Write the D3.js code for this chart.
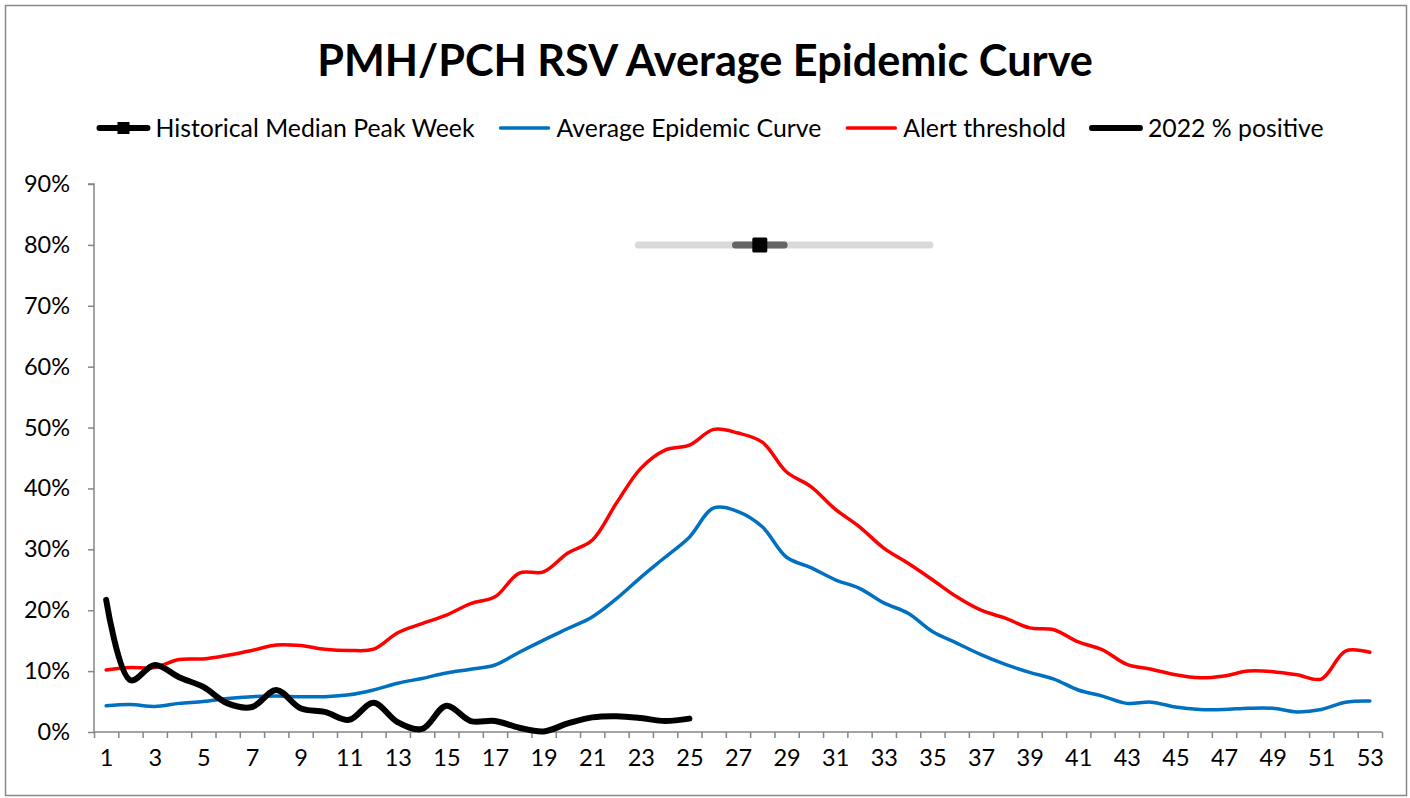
<!DOCTYPE html>
<html>
<head>
<meta charset="utf-8">
<script src="https://cdn.jsdelivr.net/npm/d3@7"></script>
<style>
  html, body { margin: 0; padding: 0; background: #fff; }
  svg { display: block; }
  text { font-family: Lato, "Open Sans", "DejaVu Sans", sans-serif; fill: #000; }
</style>
</head>
<body>
<svg id="chart" width="1410" height="798"></svg>
<script>
// ---------------- DATA ----------------
const weeks = [1,2,3,4,5,6,7,8,9,10,11,12,13,14,15,16,17,18,19,20,21,22,23,24,25,26,27,
               28,29,30,31,32,33,34,35,36,37,38,39,40,41,42,43,44,45,46,47,48,49,50,51,52,53];
const averageCurve = [4.3,4.5,4.2,4.7,5.0,5.5,5.8,5.9,5.8,5.8,6.1,6.9,8.0,8.8,9.7,10.3,11.0,13.1,15.1,17.0,
                      18.9,21.9,25.4,28.7,32.0,36.8,36.2,33.7,28.7,27.0,25.0,23.6,21.2,19.5,16.5,14.6,12.7,11.1,9.8,8.7,
                      6.9,5.9,4.7,4.9,4.1,3.7,3.7,3.9,3.9,3.3,3.7,4.9,5.1];
const alertThreshold = [10.2,10.6,10.6,11.9,12.0,12.6,13.4,14.3,14.2,13.6,13.4,13.6,16.3,17.8,19.2,21.1,22.2,26.1,26.3,29.4,
                        31.5,37.6,43.3,46.3,47.1,49.7,49.1,47.6,42.7,40.3,36.6,33.7,30.2,27.7,25.0,22.2,20.0,18.7,17.1,16.8,
                        14.8,13.5,11.1,10.3,9.4,8.9,9.2,10.0,9.9,9.4,8.7,13.3,13.1];
const positive2022 = [21.7,8.5,11.0,9.0,7.4,4.7,4.1,6.9,3.9,3.3,2.0,4.8,1.6,0.5,4.3,1.8,1.8,0.7,0.1,1.4,
                      2.4,2.6,2.3,1.8,2.2];
const peakWeekMedian = 28;
const peakWeekIQR = [27, 29];
const peakWeekRange = [23, 35];
const peakWeekLevel = 80;
const yTicks = [0,10,20,30,40,50,60,70,80,90];
const xLabelWeeks = [1,3,5,7,9,11,13,15,17,19,21,23,25,27,29,31,33,35,37,39,41,43,45,47,49,51,53];

const titleText = "PMH/PCH RSV Average Epidemic Curve";
const legendItems = [
  {key: "peak", label: "Historical Median Peak Week"},
  {key: "avg", label: "Average Epidemic Curve"},
  {key: "alert", label: "Alert threshold"},
  {key: "pos", label: "2022 % positive"}
];

// ---------------- LAYOUT ----------------
const svg = d3.select("#chart");
const W = 1410, H = 798;
const plot = {left: 94, right: 1382, top: 184, bottom: 732};
const axisColor = "#868686";
const colors = {avg: "#0070C0", alert: "#FF0000", pos: "#000000"};

svg.append("rect").attr("x", 5.5).attr("y", 5.5).attr("width", W - 9).attr("height", H - 8)
  .attr("fill", "#fff").attr("stroke", "#898989").attr("stroke-width", 1.5);

const x = d3.scaleLinear().domain([0.5, weeks.length + 0.5]).range([plot.left, plot.right]);
const y = d3.scaleLinear().domain([0, 90]).range([plot.bottom, plot.top]);

function fitWidth(sel, target) {
  const node = sel.node();
  const fs = parseFloat(sel.attr("font-size"));
  const w = node.getComputedTextLength();
  sel.attr("font-size", (fs * target / w).toFixed(2));
}

// Title
const title = svg.append("text").attr("x", 705).attr("y", 76)
  .attr("text-anchor", "middle").attr("font-weight", "bold").attr("font-size", 44)
  .text(titleText);
fitWidth(title, 776);

// Y axis
const yAxis = svg.append("g").attr("transform", `translate(${plot.left},0)`)
  .call(d3.axisLeft(y).tickValues(yTicks).tickSize(6).tickPadding(18).tickFormat(d => d + "%"));
yAxis.selectAll("line, path").attr("stroke", axisColor).attr("stroke-width", 1.5);
yAxis.select(".domain").attr("d", `M-6,${plot.top}H0V${plot.bottom}`);
yAxis.selectAll("text").attr("font-size", 23.5).attr("font-family", "Lato, sans-serif").attr("fill", "#000");

// X axis (ticks between categories)
const xAxis = svg.append("g").attr("transform", `translate(0,${plot.bottom})`)
  .call(d3.axisBottom(x).tickValues(d3.range(0.5, weeks.length + 1, 1)).tickSize(6).tickFormat(""));
xAxis.selectAll("line, path").attr("stroke", axisColor).attr("stroke-width", 1.5);
xAxis.select(".domain").attr("d", `M${plot.left},0H${plot.right}`);

const xLab = svg.append("g").attr("transform", `translate(0,${plot.bottom})`)
  .call(d3.axisBottom(x).tickValues(xLabelWeeks).tickSize(0).tickPadding(17).tickFormat(d3.format("d")));
xLab.select(".domain").remove();
xLab.selectAll("text").attr("font-size", 23.5).attr("font-family", "Lato, sans-serif").attr("fill", "#000");

// Lines
const line = d3.line().x(d => x(d[0])).y(d => y(d[1])).curve(d3.curveCatmullRom.alpha(0.5));
function series(vals) { return vals.map((v, i) => [weeks[i], v]); }

svg.append("path").datum(series(averageCurve)).attr("d", line)
  .attr("fill", "none").attr("stroke", colors.avg).attr("stroke-width", 3.5)
  .attr("stroke-linejoin", "round").attr("stroke-linecap", "round");
svg.append("path").datum(series(alertThreshold)).attr("d", line)
  .attr("fill", "none").attr("stroke", colors.alert).attr("stroke-width", 3.5)
  .attr("stroke-linejoin", "round").attr("stroke-linecap", "round");
svg.append("path").datum(series(positive2022)).attr("d", line)
  .attr("fill", "none").attr("stroke", colors.pos).attr("stroke-width", 6)
  .attr("stroke-linejoin", "round").attr("stroke-linecap", "round");

// Peak week marker
const pk = svg.append("g").attr("transform", "translate(-2.5,0)");
pk.append("line").attr("x1", x(peakWeekRange[0])).attr("x2", x(peakWeekRange[1]))
  .attr("y1", y(peakWeekLevel)).attr("y2", y(peakWeekLevel))
  .attr("stroke", "#D9D9D9").attr("stroke-width", 7).attr("stroke-linecap", "round");
pk.append("line").attr("x1", x(peakWeekIQR[0])).attr("x2", x(peakWeekIQR[1]))
  .attr("y1", y(peakWeekLevel)).attr("y2", y(peakWeekLevel))
  .attr("stroke", "#646464").attr("stroke-width", 7).attr("stroke-linecap", "round");
pk.append("rect").attr("x", x(peakWeekMedian) - 7.5).attr("y", y(peakWeekLevel) - 7.5)
  .attr("width", 15).attr("height", 15).attr("rx", 1.5).attr("fill", "#000");

// Legend
const legY = 128;
const legend = svg.append("g");
const lineLen = 54, gapLT = 5, gapItem = 23, legFont = 24.8;
const items = legendItems.map(it => {
  const g = legend.append("g");
  const t = g.append("text").attr("y", legY + 9).attr("font-size", legFont).text(it.label);
  return {it, g, t, w: t.node().getComputedTextLength()};
});
const total = d3.sum(items, d => lineLen + gapLT + d.w) + gapItem * (items.length - 1);
let cx = 710 - total / 2;
items.forEach(d => {
  const k = d.it.key;
  const stroke = k === "avg" ? colors.avg : k === "alert" ? colors.alert : "#000";
  const sw = (k === "avg" || k === "alert") ? 3.5 : 6;
  d.g.insert("line", "text").attr("x1", cx + 3).attr("x2", cx + lineLen - 3)
    .attr("y1", legY).attr("y2", legY).attr("stroke", stroke).attr("stroke-width", sw)
    .attr("stroke-linecap", "round");
  if (k === "peak") {
    d.g.append("rect").attr("x", cx + lineLen / 2 - 6).attr("y", legY - 6)
      .attr("width", 12).attr("height", 12).attr("fill", "#000");
  }
  d.t.attr("x", cx + lineLen + gapLT);
  cx += lineLen + gapLT + d.w + gapItem;
});
</script>
</body>
</html>
